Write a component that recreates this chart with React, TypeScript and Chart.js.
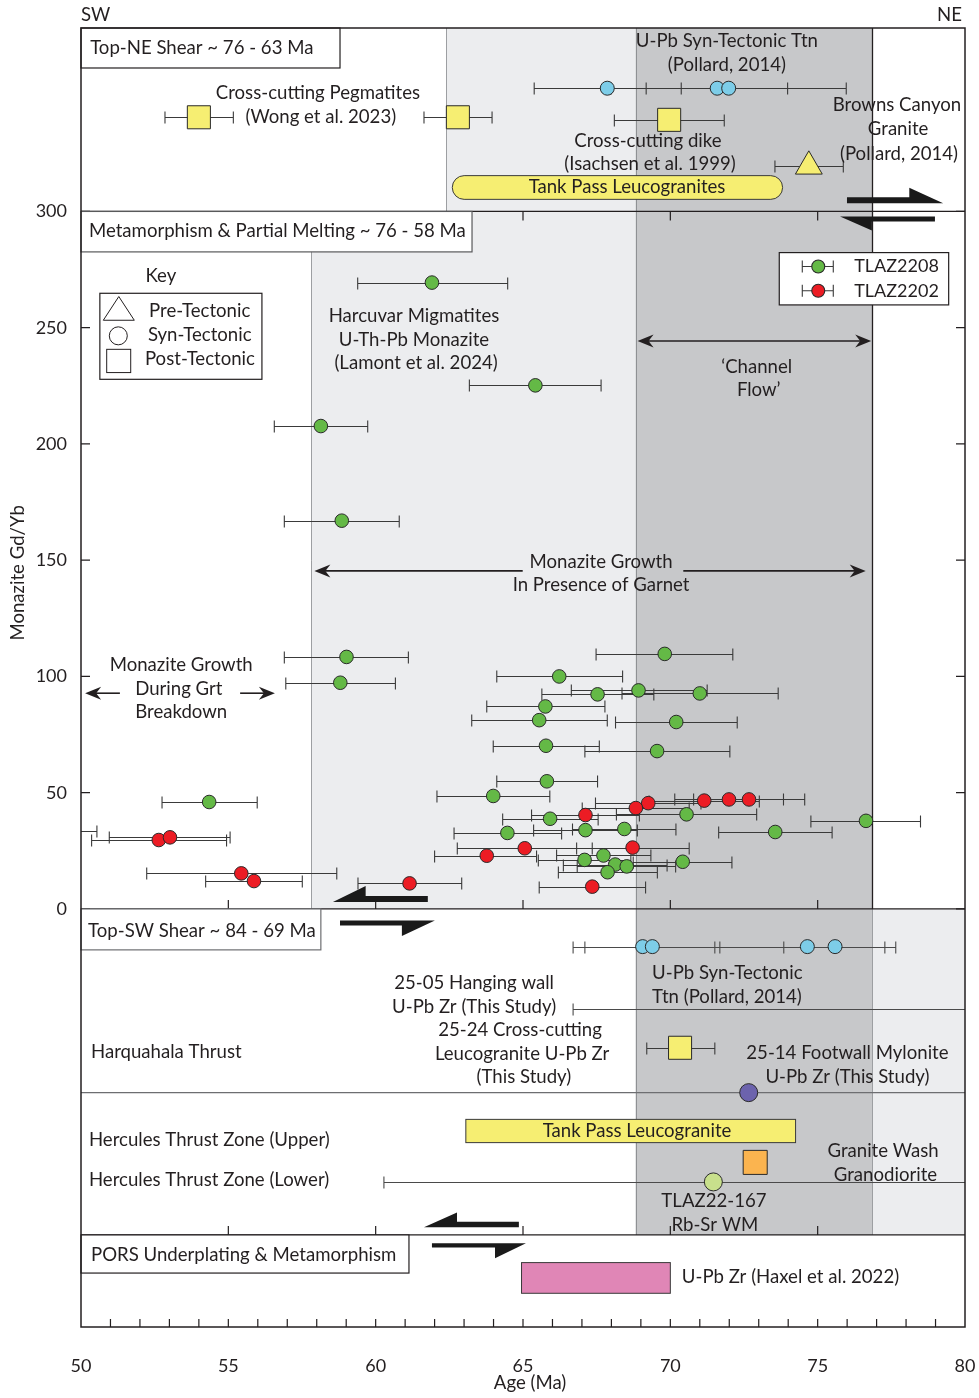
import React, { useEffect, useRef } from 'react';
import { Chart, registerables } from 'chart.js';

Chart.register(...registerables);

const FONT = 'Lato, "Open Sans", sans-serif';
const INK = '#231f20';
const TXT = 18.6;

// ---------- axes ----------
const ageMin = 50;
const ageMax = 80;
const ratioMin = -179.8;
const ratioMax = 378.9;
const xTickLabels = [50, 55, 60, 65, 70, 75, 80];
const yTickLabels = [0, 50, 100, 150, 200, 250, 300];
const innerTickAges = [55, 60, 65, 70, 75];
const minorTickAges = [51, 52, 53, 54, 55, 56, 57, 58, 59, 60, 61, 62, 63, 64, 65, 66, 67, 68, 69, 70, 71, 72, 73, 74, 75, 76, 77, 78, 79];

// ---------- TLAZ2208 (green) monazite ----------
const tlaz2208Age = [61.91, 65.42, 58.14, 58.85, 59.01, 58.80, 54.35, 69.81, 66.23, 67.53, 68.92, 71.00, 65.76, 65.55, 70.20, 65.78, 69.55, 65.81, 63.99, 70.55, 65.92, 64.47, 67.12, 68.44, 73.56, 76.64, 67.09, 67.73, 68.13, 68.52, 67.87, 70.42];
const tlaz2208Lo = [59.39, 63.18, 56.56, 56.90, 56.90, 56.95, 52.75, 67.48, 64.11, 65.64, 66.64, 68.36, 63.77, 63.26, 68.14, 63.99, 67.10, 64.11, 62.08, 68.17, 64.31, 62.66, 65.36, 66.68, 71.64, 74.77, 65.52, 66.14, 66.37, 66.84, 66.20, 68.74];
const tlaz2208Hi = [64.48, 67.65, 59.73, 60.80, 61.11, 60.67, 55.98, 72.12, 68.38, 69.44, 71.25, 73.66, 67.78, 67.86, 72.27, 67.59, 72.02, 67.53, 65.91, 72.93, 67.55, 66.31, 68.88, 70.19, 75.49, 78.49, 68.66, 69.34, 69.89, 70.18, 69.56, 72.09];
const tlaz2208Ratio = [269.4, 225.2, 207.7, 167.0, 108.4, 97.3, 46.0, 109.7, 100.0, 92.3, 94.0, 92.7, 87.1, 81.2, 80.4, 70.2, 67.9, 54.9, 48.6, 40.7, 38.8, 32.7, 33.9, 34.4, 33.1, 37.9, 21.1, 23.0, 19.1, 18.3, 15.8, 20.3];

// ---------- TLAZ2202 (red) monazite ----------
const tlaz2202Age = [48.5, 52.64, 53.02, 55.44, 55.87, 61.15, 71.15, 69.25, 68.83, 71.99, 72.67, 67.12, 63.77, 65.06, 68.72, 67.35];
const tlaz2202Lo = [46.46, 50.36, 50.96, 52.23, 54.23, 59.40, 69.28, 67.46, 67.01, 70.15, 70.79, 65.29, 62.00, 62.77, 66.82, 65.55];
const tlaz2202Hi = [50.54, 54.94, 55.06, 58.68, 57.51, 62.92, 73.02, 71.04, 70.64, 73.84, 74.56, 68.95, 65.46, 67.35, 70.64, 69.16];
const tlaz2202Ratio = [33.6, 29.65, 30.8, 15.3, 12.0, 11.0, 46.6, 45.5, 43.4, 47.1, 47.1, 40.4, 22.9, 26.1, 26.4, 9.6];

// ---------- U-Pb syn-tectonic titanite (Pollard, 2014) ----------
const ttnTopAge = [67.86, 71.59, 71.98];
const ttnTopLo = [65.38, 69.18, 67.99];
const ttnTopHi = [70.37, 73.98, 75.97];
const ttnTopRatio = [353, 353, 353];
const ttnLowAge = [69.06, 69.39, 74.65, 75.59];
const ttnLowLo = [66.7, 67.1, 71.68, 73.85];
const ttnLowHi = [71.51, 71.68, 77.65, 77.28];
const ttnLowRatio = [-16.2, -16.2, -16.2, -16.2];

// ---------- post-tectonic intrusions (squares) ----------
const postAge = [54.0, 62.79, 69.96, 70.33];
const postLo = [52.85, 61.64, 68.1, 69.2];
const postHi = [55.17, 63.95, 71.83, 71.51];
const postRatio = [340.5, 340.5, 339.4, -59.7];

// ---------- Browns Canyon Granite (pre-tectonic) ----------
const brownsAge = [74.7];
const brownsLo = [73.55];
const brownsHi = [75.87];
const brownsRatio = [319.4];

// ---------- other dated samples ----------
const hangingWallAge = [86.0];
const hangingWallLo = [66.7];
const hangingWallHi = [105.3];
const hangingWallRatio = [-43.0];
const footwallAge = [72.66];
const footwallRatio = [-79.0];
const graniteWashAge = [72.88];
const graniteWashRatio = [-109.0];
const rbSrAge = [71.46];
const rbSrLo = [60.28];
const rbSrHi = [82.64];
const rbSrRatio = [-117.4];

// ---------- age ranges (bars) ----------
const tankPassTop = [62.6, 73.81, 305.2, 315.4];
const tankPassLow = [63.06, 74.25, -100.5, -90.5];
const haxelZircon = [64.95, 70.0, -165.3, -152.1];

// ---------- panels & shading ----------
const panelTopBase = 300;
const panelMainBase = 0;
const harquahalaBase = -79.0;
const herculesBase = -140.2;
const garnetStart = 57.81;
const topShadeStart = 62.4;
const channelStart = 68.82;
const channelEnd = 76.85;

const LIGHT = '#ecedef';
const DARK = '#c7c8ca';

function pts(age: number[], ratio: number[], lo?: number[], hi?: number[]) {
  return age.map((a, i) => ({ x: a, y: ratio[i], xMin: lo ? lo[i] : undefined, xMax: hi ? hi[i] : undefined }));
}

const annotationText: Array<[string, number, number, CanvasTextAlign]> = [
  ['Top-NE Shear ~ 76 - 63 Ma', 50.31, 370.3, 'left'],
  ['Cross-cutting Pegmatites', 58.04, 351.0, 'center'],
  ['(Wong et al. 2023)', 58.14, 340.6, 'center'],
  ['U-Pb Syn-Tectonic Ttn', 71.92, 373.3, 'center'],
  ['(Pollard, 2014)', 71.92, 363.0, 'center'],
  ['Cross-cutting dike', 69.24, 330.5, 'center'],
  ['(Isachsen et al. 1999)', 69.31, 320.2, 'center'],
  ['Browns Canyon', 77.69, 345.6, 'center'],
  ['Granite', 77.73, 335.3, 'center'],
  ['(Pollard, 2014)', 77.76, 324.9, 'center'],
  ['Tank Pass Leucogranites', 68.53, 310.5, 'center'],
  ['Metamorphism & Partial Melting ~ 76 - 58 Ma', 50.27, 291.6, 'left'],
  ['Key', 52.71, 272.3, 'center'],
  ['Pre-Tectonic', 52.31, 257.2, 'left'],
  ['Syn-Tectonic', 52.27, 246.7, 'left'],
  ['Post-Tectonic', 52.17, 236.4, 'left'],
  ['Harcuvar Migmatites', 61.30, 255.1, 'center'],
  ['U-Th-Pb Monazite', 61.30, 244.7, 'center'],
  ['(Lamont et al. 2024)', 61.37, 234.8, 'center'],
  ['\u2018Channel', 72.93, 233.2, 'center'],
  ['Flow\u2019', 73.0, 223.2, 'center'],
  ['Monazite Growth', 67.65, 149.4, 'center'],
  ['In Presence of Garnet', 67.65, 139.2, 'center'],
  ['Monazite Growth', 53.40, 104.9, 'center'],
  ['During Grt', 53.32, 94.8, 'center'],
  ['Breakdown', 53.40, 84.6, 'center'],
  ['TLAZ2208', 76.24, 276.3, 'left'],
  ['TLAZ2202', 76.24, 265.9, 'left'],
  ['Top-SW Shear ~ 84 - 69 Ma', 50.24, -9.3, 'left'],
  ['U-Pb Syn-Tectonic', 69.38, -27.5, 'left'],
  ['Ttn (Pollard, 2014)', 69.38, -37.8, 'left'],
  ['25-05 Hanging wall', 63.34, -31.8, 'center'],
  ['U-Pb Zr (This Study)', 63.34, -42.2, 'center'],
  ['25-24 Cross-cutting', 64.90, -52.0, 'center'],
  ['Leucogranite U-Pb Zr', 64.97, -62.4, 'center'],
  ['(This Study)', 65.03, -72.3, 'center'],
  ['Harquahala Thrust', 50.34, -61.5, 'left'],
  ['25-14 Footwall Mylonite', 76.01, -61.9, 'center'],
  ['U-Pb Zr (This Study)', 76.01, -72.3, 'center'],
  ['Tank Pass Leucogranite', 68.87, -95.5, 'center'],
  ['Hercules Thrust Zone (Upper)', 50.27, -99.4, 'left'],
  ['Hercules Thrust Zone (Lower)', 50.27, -116.6, 'left'],
  ['Granite Wash', 77.22, -104.1, 'center'],
  ['Granodiorite', 77.30, -114.4, 'center'],
  ['TLAZ22-167', 71.48, -125.6, 'center'],
  ['Rb-Sr WM', 71.51, -135.9, 'center'],
  ['PORS Underplating & Metamorphism', 50.34, -148.8, 'left'],
  ['U-Pb Zr (Haxel et al. 2022)', 70.39, -158.3, 'left'],
];

// half-arrow shear-sense symbols: [tail, headBase, tip, bandTop, bandBottom, headEdge]
const shearArrows = [
  [75.995, 78.11, 79.26, 306.1, 303.5, 310.2],
  [78.98, 76.84, 75.76, 297.8, 295.7, 291.8],
  [61.77, 59.66, 58.55, 5.6, 3.0, 9.9],
  [58.79, 60.89, 62.01, -5.0, -7.1, -11.6],
  [64.86, 62.76, 61.64, -134.5, -136.9, -130.6],
  [61.91, 64.05, 65.10, -143.8, -145.6, -150.2],
];

const figurePlugin = {
  id: 'figure',
  beforeDatasetsDraw(chart: any) {
    const { ctx, chartArea: ca, scales } = chart;
    const X = (v: number) => scales.x.getPixelForValue(v);
    const Y = (v: number) => scales.y.getPixelForValue(v);
    const band = (a0: number, a1: number, r0: number, r1: number, c: string) => {
      ctx.fillStyle = c;
      ctx.fillRect(X(a0), Y(r1), X(a1) - X(a0), Y(r0) - Y(r1));
    };
    const vline = (a: number, r0: number, r1: number, c: string, w = 1) => {
      ctx.strokeStyle = c; ctx.lineWidth = w;
      ctx.beginPath(); ctx.moveTo(Math.round(X(a)) + 0.5, Y(r0)); ctx.lineTo(Math.round(X(a)) + 0.5, Y(r1)); ctx.stroke();
    };
    const hline = (r: number, a0: number, a1: number, c: string, w = 1.3) => {
      ctx.strokeStyle = c; ctx.lineWidth = w;
      ctx.beginPath(); ctx.moveTo(X(a0), Y(r)); ctx.lineTo(X(a1), Y(r)); ctx.stroke();
    };
    const box = (a0: number, a1: number, r0: number, r1: number, c: string) => {
      ctx.fillStyle = '#ffffff';
      ctx.fillRect(X(a0), Y(r1), X(a1) - X(a0), Y(r0) - Y(r1));
      ctx.strokeStyle = c; ctx.lineWidth = 1.2;
      ctx.strokeRect(X(a0), Y(r1), X(a1) - X(a0), Y(r0) - Y(r1));
    };
    ctx.save();
    // shading
    band(topShadeStart, channelStart, panelTopBase, ratioMax, LIGHT);
    band(channelStart, channelEnd, panelTopBase, ratioMax, DARK);
    band(garnetStart, channelStart, panelMainBase, panelTopBase, LIGHT);
    band(channelStart, channelEnd, panelMainBase, panelTopBase, DARK);
    band(channelStart, channelEnd, herculesBase, panelMainBase, DARK);
    band(channelEnd, ageMax, herculesBase, panelMainBase, LIGHT);
    // shading edges
    vline(topShadeStart, panelTopBase, ratioMax, '#9d9fa2');
    vline(channelStart, panelTopBase, ratioMax, '#8f9194');
    vline(channelEnd, panelTopBase, ratioMax, INK, 1.3);
    vline(garnetStart, panelMainBase, panelTopBase, '#9d9fa2');
    vline(channelStart, panelMainBase, panelTopBase, '#8f9194');
    vline(channelEnd, panelMainBase, panelTopBase, INK, 1.3);
    vline(channelStart, herculesBase, panelMainBase, '#8f9194');
    vline(channelEnd, herculesBase, panelMainBase, '#9d9fa2');
    // section lines
    hline(harquahalaBase, ageMin, ageMax, '#6d6e71', 1.2);
    hline(panelTopBase, ageMin, ageMax, INK);
    hline(panelMainBase, ageMin, ageMax, INK);
    hline(herculesBase, ageMin, ageMax, INK);
    // inward ticks
    ctx.strokeStyle = INK; ctx.lineWidth = 1.2;
    ctx.beginPath();
    for (const v of yTickLabels) {
      ctx.moveTo(X(ageMin), Y(v)); ctx.lineTo(X(ageMin) + 9, Y(v));
      ctx.moveTo(X(ageMax), Y(v)); ctx.lineTo(X(ageMax) - 9, Y(v));
    }
    for (const a of innerTickAges) {
      ctx.moveTo(X(a), Y(panelTopBase)); ctx.lineTo(X(a), Y(panelTopBase) + 9);
      ctx.moveTo(X(a), Y(panelMainBase)); ctx.lineTo(X(a), Y(panelMainBase) - 9);
      ctx.moveTo(X(a), Y(herculesBase)); ctx.lineTo(X(a), Y(herculesBase) - 9);
    }
    for (const a of minorTickAges) {
      ctx.moveTo(X(a), Y(ratioMin)); ctx.lineTo(X(a), Y(ratioMin) - 8);
    }
    ctx.stroke();
    // label boxes
    box(ageMin, 58.79, 361.7, ratioMax, INK);
    box(ageMin, 63.27, 282.6, panelTopBase, '#58595b');
    box(ageMin, 58.14, -17.6, panelMainBase, '#6d6e71');
    box(ageMin, 61.13, -156.6, herculesBase, INK);
    // key box
    box(50.64, 56.14, 227.8, 264.8, INK);
    // legend box
    box(73.697, 79.446, 259.8, 282.3, INK);
    // age-range bars
    ctx.fillStyle = '#f6ee72'; ctx.strokeStyle = '#3a3a3a'; ctx.lineWidth = 1;
    {
      const [a0, a1, r0, r1] = tankPassTop;
      const x0 = X(a0), x1 = X(a1), y0 = Y(r1), y1 = Y(r0), rr = (y1 - y0) / 2;
      ctx.beginPath();
      ctx.moveTo(x0 + rr, y0); ctx.lineTo(x1 - rr, y0);
      ctx.arc(x1 - rr, y0 + rr, rr, -Math.PI / 2, Math.PI / 2);
      ctx.lineTo(x0 + rr, y1);
      ctx.arc(x0 + rr, y0 + rr, rr, Math.PI / 2, Math.PI * 1.5);
      ctx.closePath(); ctx.fill(); ctx.stroke();
    }
    {
      const [a0, a1, r0, r1] = tankPassLow;
      ctx.fillRect(X(a0), Y(r1), X(a1) - X(a0), Y(r0) - Y(r1));
      ctx.strokeRect(X(a0), Y(r1), X(a1) - X(a0), Y(r0) - Y(r1));
    }
    {
      const [a0, a1, r0, r1] = haxelZircon;
      ctx.fillStyle = '#e086b6';
      ctx.fillRect(X(a0), Y(r1), X(a1) - X(a0), Y(r0) - Y(r1));
      ctx.strokeRect(X(a0), Y(r1), X(a1) - X(a0), Y(r0) - Y(r1));
    }
    // error bars
    ctx.save();
    ctx.beginPath(); ctx.rect(ca.left, ca.top, ca.right - ca.left, ca.bottom - ca.top); ctx.clip();
    for (const ds of chart.data.datasets) {
      if (!ds.errColor) continue;
      ctx.strokeStyle = ds.errColor; ctx.lineWidth = 1.1;
      ctx.beginPath();
      for (const d of ds.data) {
        if (d.xMin === undefined) continue;
        const yy = Math.round(Y(d.y)) + 0.5;
        const x0 = X(d.xMin), x1 = X(d.xMax);
        ctx.moveTo(x0, yy); ctx.lineTo(x1, yy);
        ctx.moveTo(x0, yy - 6); ctx.lineTo(x0, yy + 6);
        ctx.moveTo(x1, yy - 6); ctx.lineTo(x1, yy + 6);
      }
      ctx.stroke();
    }
    ctx.restore();
    ctx.restore();
  },
  afterDatasetsDraw(chart: any) {
    const { ctx, chartArea: ca, scales } = chart;
    const X = (v: number) => scales.x.getPixelForValue(v);
    const Y = (v: number) => scales.y.getPixelForValue(v);
    ctx.save();
    // frame
    ctx.strokeStyle = INK; ctx.lineWidth = 1.5;
    ctx.strokeRect(ca.left, ca.top, ca.right - ca.left, ca.bottom - ca.top);
    // key icons
    ctx.strokeStyle = INK; ctx.lineWidth = 1;
    ctx.beginPath();
    ctx.moveTo(X(50.757), Y(253.2)); ctx.lineTo(X(51.809), Y(253.2)); ctx.lineTo(X(51.283), Y(263.4)); ctx.closePath();
    ctx.stroke();
    ctx.beginPath(); ctx.arc(X(51.266), Y(246.5), 9, 0, Math.PI * 2); ctx.stroke();
    ctx.strokeRect(X(50.872), Y(240.7), X(51.687) - X(50.872), Y(230.7) - Y(240.7));
    // legend icons
    const legendRows: Array<[number, string]> = [[276.3, '#64b946'], [265.9, '#ec1c24']];
    for (const [r, c] of legendRows) {
      const yy = Y(r);
      ctx.strokeStyle = '#3a3a3a'; ctx.lineWidth = 1.1;
      ctx.beginPath();
      ctx.moveTo(X(74.478), yy); ctx.lineTo(X(75.53), yy);
      ctx.moveTo(X(74.478), yy - 6); ctx.lineTo(X(74.478), yy + 6);
      ctx.moveTo(X(75.53), yy - 6); ctx.lineTo(X(75.53), yy + 6);
      ctx.stroke();
      ctx.fillStyle = c; ctx.strokeStyle = '#2a2a2a';
      ctx.beginPath(); ctx.arc(X(75.02), yy, 6.5, 0, Math.PI * 2); ctx.fill(); ctx.stroke();
    }
    // double arrows
    const head = (tx: number, ty: number, dir: number) => {
      ctx.beginPath();
      ctx.moveTo(tx, ty);
      ctx.lineTo(tx - dir * 16, ty - 6.5);
      ctx.lineTo(tx - dir * 11, ty);
      ctx.lineTo(tx - dir * 16, ty + 6.5);
      ctx.closePath(); ctx.fill();
    };
    ctx.strokeStyle = INK; ctx.fillStyle = INK; ctx.lineWidth = 1.6;
    const seg = (a0: number, a1: number, r: number) => {
      ctx.beginPath(); ctx.moveTo(X(a0), Y(r)); ctx.lineTo(X(a1), Y(r)); ctx.stroke();
    };
    seg(channelStart + 0.3, channelEnd - 0.3, 244.3);
    head(X(channelStart) + 2, Y(244.3), -1);
    head(X(channelEnd) - 1, Y(244.3), 1);
    seg(57.92 + 0.3, 64.99, 145.4);
    seg(70.44, 76.63 - 0.3, 145.4);
    head(X(57.92), Y(145.4), -1);
    head(X(76.63), Y(145.4), 1);
    seg(51.32, 50.14 + 0.3, 92.8);
    head(X(50.14), Y(92.8), -1);
    seg(55.40, 56.58 - 0.3, 92.8);
    head(X(56.58), Y(92.8), 1);
    // shear-sense half arrows
    ctx.fillStyle = '#1a1a1a';
    for (const [tail, base, tip, bt, bb, he] of shearArrows) {
      ctx.beginPath();
      if (he > bt) {
        ctx.moveTo(X(tail), Y(bt)); ctx.lineTo(X(base), Y(bt)); ctx.lineTo(X(base), Y(he));
        ctx.lineTo(X(tip), Y(bb)); ctx.lineTo(X(tail), Y(bb));
      } else {
        ctx.moveTo(X(tail), Y(bt)); ctx.lineTo(X(tip), Y(bt)); ctx.lineTo(X(base), Y(he));
        ctx.lineTo(X(base), Y(bb)); ctx.lineTo(X(tail), Y(bb));
      }
      ctx.closePath(); ctx.fill();
    }
    // texts
    ctx.fillStyle = INK;
    ctx.textBaseline = 'middle';
    for (const [s, a, r, al] of annotationText) {
      ctx.font = (s.startsWith('TLAZ22') && s.length === 8) ? `18px ${FONT}` : `${TXT}px ${FONT}`;
      ctx.textAlign = al;
      ctx.fillText(s, X(a), Y(r));
    }
    // SW / NE
    ctx.font = `${TXT}px ${FONT}`;
    ctx.textAlign = 'left'; ctx.fillText('SW', ca.left, 15);
    ctx.textAlign = 'right'; ctx.fillText('NE', ca.right - 3, 15);
    // axis titles
    ctx.textAlign = 'center';
    ctx.fillText('Age (Ma)', X(65.24), ca.bottom + 56);
    ctx.save();
    ctx.translate(18, Y(144.6));
    ctx.rotate(-Math.PI / 2);
    ctx.fillText('Monazite Gd/Yb', 0, 0);
    ctx.restore();
    ctx.restore();
  },
};

export default function App() {
  const ref = useRef<HTMLCanvasElement>(null);
  useEffect(() => {
    document.body.style.margin = '0';
    const canvas = ref.current!;
    const circle = (data: any[], color: string, r: number, errColor?: string, label = '') => ({
      label, data, errColor, pointStyle: 'circle', pointRadius: r, pointBackgroundColor: color,
      pointBorderColor: '#2a2a2a', pointBorderWidth: 1, showLine: false,
    });
    const chart = new Chart(canvas, {
      type: 'scatter',
      data: {
        datasets: [
          circle(pts(tlaz2202Age, tlaz2202Ratio, tlaz2202Lo, tlaz2202Hi), '#ec1c24', 6.8, '#3a3a3a', 'TLAZ2202'),
          circle(pts(tlaz2208Age, tlaz2208Ratio, tlaz2208Lo, tlaz2208Hi), '#64b946', 6.8, '#3a3a3a', 'TLAZ2208'),
          circle(pts(ttnTopAge, ttnTopRatio, ttnTopLo, ttnTopHi), '#7dcde8', 7, '#3a3a3a', 'Ttn'),
          circle(pts(ttnLowAge, ttnLowRatio, ttnLowLo, ttnLowHi), '#7dcde8', 7, '#4a4a4a', 'Ttn low'),
          {
            label: 'Post-tectonic', data: pts(postAge, postRatio, postLo, postHi), errColor: '#3a3a3a',
            pointStyle: 'rect', pointRadius: 16.3, pointBackgroundColor: '#f6ee72', pointBorderColor: '#2a2a2a', pointBorderWidth: 1,
          },
          {
            label: 'Pre-tectonic', data: pts(brownsAge, brownsRatio, brownsLo, brownsHi), errColor: '#3a3a3a',
            pointStyle: 'triangle', pointRadius: 15.5, pointBackgroundColor: '#f6ee72', pointBorderColor: '#2a2a2a', pointBorderWidth: 1,
          },
          circle(pts(hangingWallAge, hangingWallRatio, hangingWallLo, hangingWallHi), '#ffffff', 0, '#4a4a4a', '25-05'),
          circle(pts(footwallAge, footwallRatio), '#6c63ad', 9, undefined, '25-14'),
          {
            label: 'Granite Wash', data: pts(graniteWashAge, graniteWashRatio),
            pointStyle: 'rect', pointRadius: 17, pointBackgroundColor: '#fbb44f', pointBorderColor: '#2a2a2a', pointBorderWidth: 1,
          },
          circle(pts(rbSrAge, rbSrRatio, rbSrLo, rbSrHi), '#c8e08c', 9, '#4a4a4a', 'TLAZ22-167'),
        ] as any,
      },
      options: {
        responsive: false,
        animation: false,
        devicePixelRatio: 1,
        events: [],
        layout: { autoPadding: false, padding: { top: 28, right: 14, left: 0, bottom: 0 } },
        plugins: { legend: { display: false }, tooltip: { enabled: false } },
        scales: {
          x: {
            type: 'linear', min: ageMin, max: ageMax,
            afterFit: (s: any) => { s.height = 71; s.paddingLeft = 0; s.paddingRight = 0; },
            afterBuildTicks: (s: any) => { s.ticks = xTickLabels.map((v) => ({ value: v })); },
            ticks: { font: { size: 18, family: FONT }, color: INK, padding: 28, maxRotation: 0 },
            grid: { display: false, drawTicks: false },
            border: { display: false },
          },
          y: {
            type: 'linear', min: ratioMin, max: ratioMax,
            afterFit: (s: any) => { s.width = 81; s.paddingTop = 0; s.paddingBottom = 0; },
            afterBuildTicks: (s: any) => { s.ticks = yTickLabels.map((v) => ({ value: v })); },
            ticks: { font: { size: 18, family: FONT }, color: INK, padding: 14 },
            grid: { display: false, drawTicks: false },
            border: { display: false },
          },
        },
      } as any,
      plugins: [figurePlugin],
    });
    return () => chart.destroy();
  }, []);
  return <canvas ref={ref} width={979} height={1398} style={{ display: 'block', width: 979, height: 1398 }} />;
}
